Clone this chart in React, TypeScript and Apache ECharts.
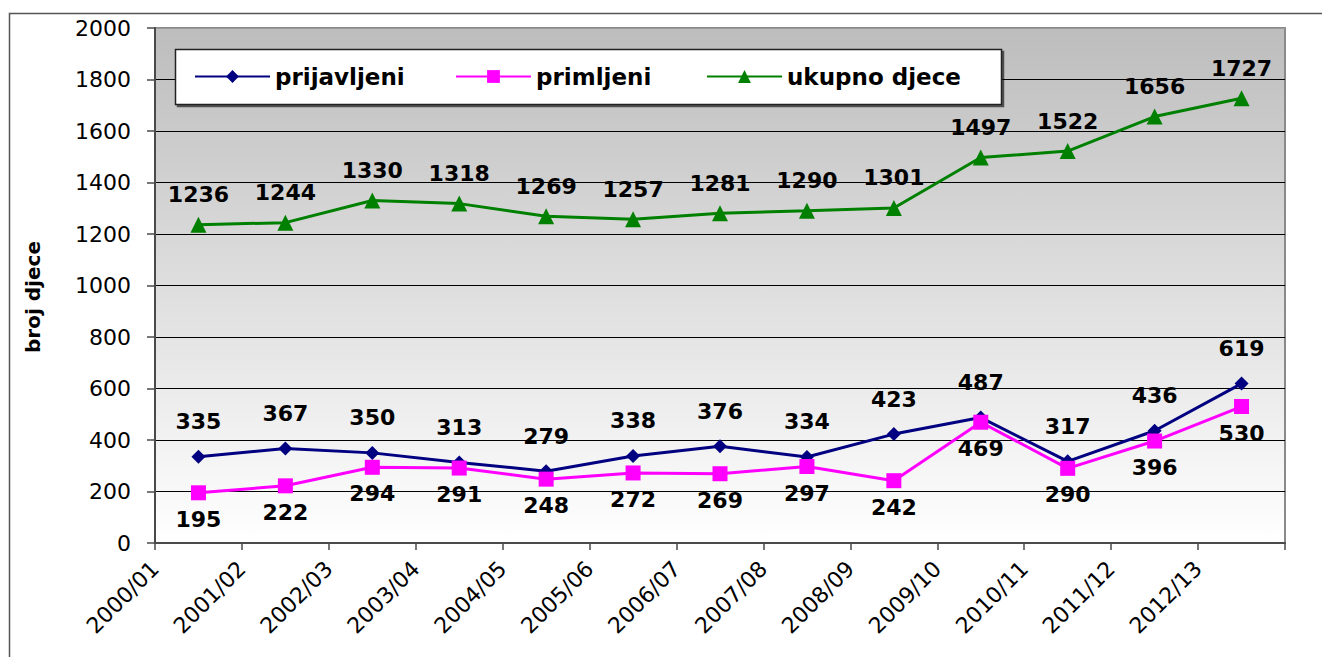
import React, { useEffect, useRef } from "react";
import * as echarts from "echarts";

const categories = [
  "2000/01", "2001/02", "2002/03", "2003/04", "2004/05", "2005/06", "2006/07",
  "2007/08", "2008/09", "2009/10", "2010/11", "2011/12", "2012/13",
];
const prijavljeni = [335, 367, 350, 313, 279, 338, 376, 334, 423, 487, 317, 436, 619];
const primljeni = [195, 222, 294, 291, 248, 272, 269, 297, 242, 469, 290, 396, 530];
const ukupno = [1236, 1244, 1330, 1318, 1269, 1257, 1281, 1290, 1301, 1497, 1522, 1656, 1727];
const seriesNames = ["prijavljeni", "primljeni", "ukupno djece"];
const yTitle = "broj djece";

const FONT = "DejaVu Sans, Verdana, sans-serif";

export default function App() {
  const ref = useRef<HTMLDivElement>(null);
  useEffect(() => {
    if (!ref.current) return;
    const chart = echarts.init(ref.current, null, { renderer: "svg" });
    const labelStyle = { show: true, fontSize: 22, fontWeight: "bold", color: "#000", fontFamily: FONT };
    const splitColors = Array.from({ length: 11 }, (_, i) => (i === 10 ? "#999999" : "#000000"));
    const legendCommon = {
      top: 65,
      padding: 0,
      itemWidth: 75,
      itemHeight: 16,
      z: 20,
      textStyle: { fontSize: 23, fontWeight: "bold", color: "#000", fontFamily: FONT },
    };
    chart.setOption({
      animation: false,
      backgroundColor: "#ffffff",
      grid: {
        left: 155,
        top: 28,
        right: 37,
        bottom: 114,
        show: true,
        borderColor: "#8a8a8a",
        borderWidth: 2,
        backgroundColor: new echarts.graphic.LinearGradient(0, 0, 0, 1, [
          { offset: 0, color: "#bdbdbd" },
          { offset: 1, color: "#ffffff" },
        ]),
      },
      legend: [
        { ...legendCommon, left: 194, data: [seriesNames[0]] },
        { ...legendCommon, left: 455, data: [seriesNames[1]] },
        { ...legendCommon, left: 706, data: [seriesNames[2]] },
      ],
      graphic: [
        {
          type: "rect",
          z: 1,
          shape: { x: 9.5, y: 13.5, width: 1400, height: 700 },
          style: { fill: "none", stroke: "#555555", lineWidth: 1.5 },
          silent: true,
        },
        {
          type: "rect",
          z: 10,
          shape: { x: 175.5, y: 49.5, width: 826, height: 55 },
          style: {
            fill: "#ffffff",
            stroke: "#222222",
            lineWidth: 1.5,
            shadowColor: "rgba(0,0,0,0.6)",
            shadowOffsetX: 2,
            shadowOffsetY: 2,
            shadowBlur: 0,
          },
          silent: true,
        },
        {
          type: "text",
          z: 10,
          x: 33,
          y: 297,
          rotation: Math.PI / 2,
          style: {
            text: yTitle,
            fontSize: 20,
            fontWeight: "bold",
            fill: "#000",
            fontFamily: FONT,
            align: "center",
            verticalAlign: "middle",
          },
          silent: true,
        },
      ],
      xAxis: [
        {
          type: "category",
          data: categories,
          boundaryGap: true,
          axisLine: { lineStyle: { color: "#4a4a4a", width: 2 } },
          axisTick: { show: true, length: 7, lineStyle: { color: "#4a4a4a", width: 1.5 } },
          axisLabel: { show: false },
          splitLine: { show: false },
        },
        {
          type: "category",
          position: "bottom",
          data: [...categories, ""],
          boundaryGap: false,
          axisLine: { show: false },
          axisTick: { show: false },
          splitLine: { show: false },
          axisLabel: {
            interval: 0,
            rotate: 45,
            margin: 22,
            fontSize: 22,
            color: "#000",
            fontFamily: FONT,
          },
        },
      ],
      yAxis: {
        type: "value",
        min: 0,
        max: 2000,
        interval: 200,
        axisLine: { show: true, lineStyle: { color: "#4a4a4a", width: 2 } },
        axisTick: { show: true, length: 8, lineStyle: { color: "#4a4a4a", width: 1.5 } },
        axisLabel: {
          fontSize: 22,
          margin: 24,
          color: "#000",
          fontFamily: FONT,
          formatter: (v: number) => String(v),
        },
        splitLine: { show: true, lineStyle: { color: splitColors, width: 1 } },
      },
      series: [
        {
          name: seriesNames[0],
          type: "line",
          data: prijavljeni,
          xAxisIndex: 0,
          color: "#000080",
          lineStyle: { width: 3, color: "#000080" },
          symbol: "diamond",
          symbolSize: 14,
          itemStyle: { color: "#000080" },
          label: { ...labelStyle, position: "top", distance: 17 },
          z: 3,
        },
        {
          name: seriesNames[1],
          type: "line",
          data: primljeni,
          xAxisIndex: 0,
          color: "#ff00ff",
          lineStyle: { width: 3, color: "#ff00ff" },
          symbol: "rect",
          symbolSize: 15,
          itemStyle: { color: "#ff00ff" },
          label: { ...labelStyle, position: "bottom", distance: 8 },
          z: 4,
        },
        {
          name: seriesNames[2],
          type: "line",
          data: ukupno,
          xAxisIndex: 0,
          color: "#008000",
          lineStyle: { width: 3, color: "#008000" },
          symbol: "triangle",
          symbolSize: 16,
          itemStyle: { color: "#008000" },
          label: { ...labelStyle, position: "top", distance: 11 },
          z: 3,
        },
      ],
    });
    return () => chart.dispose();
  }, []);
  return (
    <div
      ref={ref}
      style={{ position: "absolute", left: 0, top: 0, width: 1322, height: 657 }}
    />
  );
}
